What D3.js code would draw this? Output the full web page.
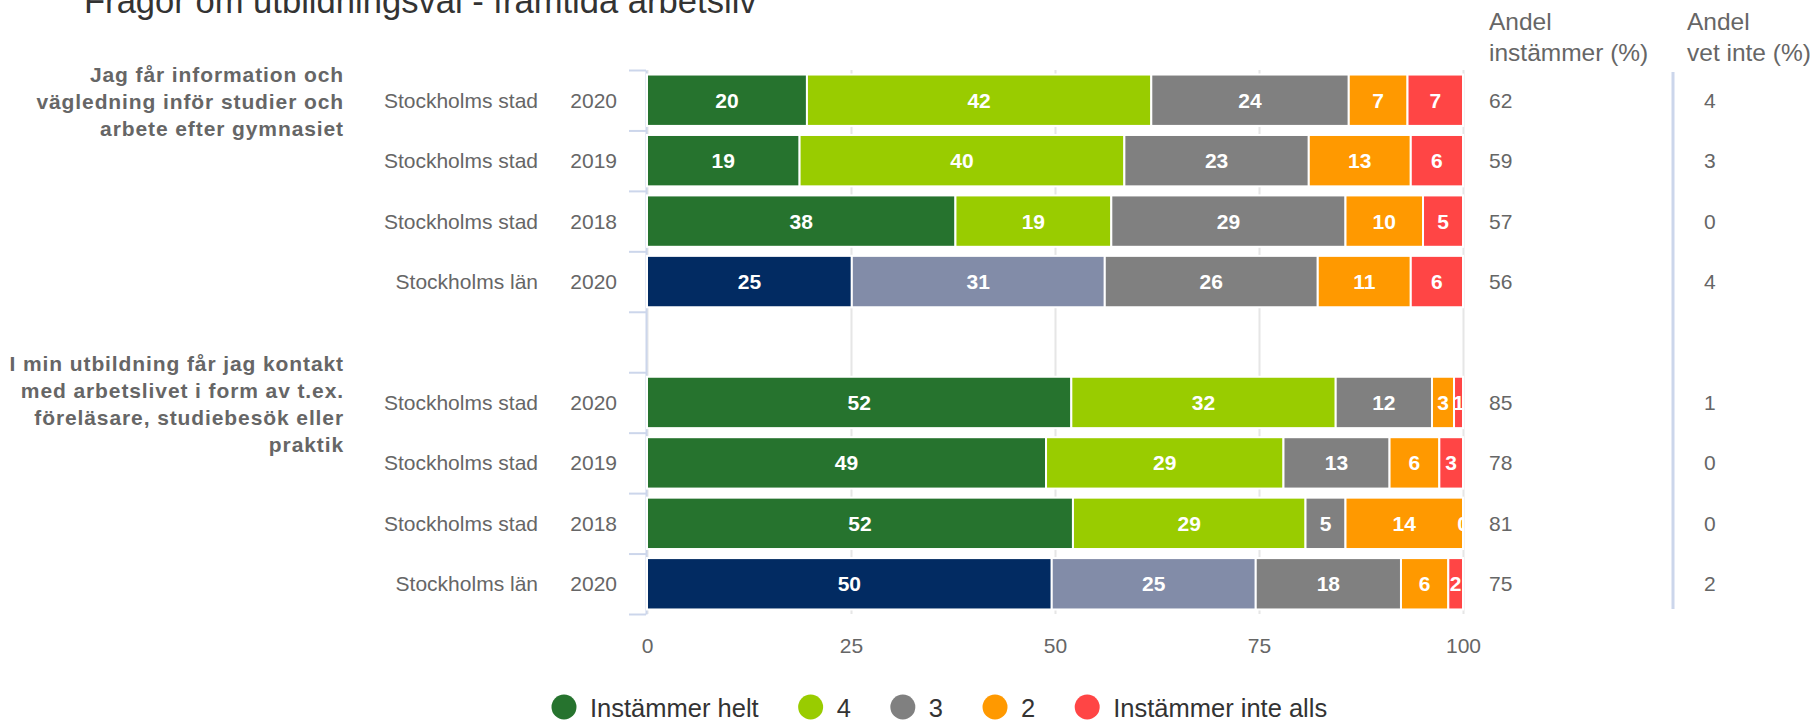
<!DOCTYPE html>
<html>
<head>
<meta charset="utf-8">
<script src="https://cdn.jsdelivr.net/npm/d3@7"></script>
<style>
body { margin: 0; background: #fff; }
text { font-family: "Liberation Sans", Arial, sans-serif; }
</style>
</head>
<body>
<svg></svg>
<script>
// data
const areas = ['Stockholms stad', 'Stockholms stad', 'Stockholms stad', 'Stockholms län',
  'Stockholms stad', 'Stockholms stad', 'Stockholms stad', 'Stockholms län']
const years = ['2020', '2019', '2018', '2020', '2020', '2019', '2018', '2020']
const slots = [0, 1, 2, 3, 5, 6, 7, 8]   // row 4 is an empty spacer between the questions
const seriesNames = ['Instämmer helt', '4', '3', '2', 'Instämmer inte alls']
const helt = [19.6, 18.7, 37.8, 25.1, 52.0, 48.9, 52.2, 49.6]
const fyra = [42.2, 39.8, 19.1, 31.0, 32.4, 29.1, 28.5, 25.0]
const tre = [24.2, 22.6, 28.7, 26.1, 11.8, 13.0, 4.9, 17.8]
const tva = [7.2, 12.5, 9.5, 11.4, 2.7, 6.1, 14.4, 5.8]
const inteAlls = [6.8, 6.4, 4.9, 6.4, 1.1, 2.9, 0, 1.8]
const andelInstammer = [62, 59, 57, 56, 85, 78, 81, 75]
const andelVetInte = [4, 3, 0, 4, 1, 0, 0, 2]
const questions = [
  ['Jag får information och', 'vägledning inför studier och', 'arbete efter gymnasiet'],
  ['I min utbildning får jag kontakt', 'med arbetslivet i form av t.ex.', 'föreläsare, studiebesök eller', 'praktik']
]
const questionSlots = [0, 5]
const xTicks = [0, 25, 50, 75, 100]

// colours
const stadColors = ['#26732e', '#99cc00', '#808080', '#ff9900', '#ff4545']
const lanColors = ['#022b62', '#828ca8', '#808080', '#ff9900', '#ff4545']

// size
const width = 1810
const height = 721
const plotLeft = 647
const plotRight = 1463
const plotTop = 70
const plotBottom = 614

const svg = d3.select('svg')
  .attr('width', width)
  .attr('height', height)

const x = d3.scaleLinear().domain([0, 100]).range([plotLeft, plotRight])
const y = d3.scaleBand().domain(d3.range(9)).range([plotTop, plotBottom])
  .paddingInner(0.15).paddingOuter(0.075)
const yEdge = d3.scaleLinear().domain([0, 9]).range([plotTop, plotBottom])

// title (cut at the top like the original)
svg.append('text')
  .attr('x', 84).attr('y', 13)
  .attr('font-size', 34.6).attr('fill', '#333')
  .text('Frågor om utbildningsval - framtida arbetsliv')

// grid lines and x labels
const xAxis = svg.append('g')
  .attr('transform', 'translate(0,' + plotBottom + ')')
  .call(d3.axisBottom(x).tickValues(xTicks).tickSize(-(plotBottom - plotTop)).tickPadding(24))
xAxis.select('.domain').remove()
xAxis.selectAll('line').attr('stroke', '#e6e6e6').attr('stroke-width', 2)
xAxis.selectAll('text').attr('font-size', 21).attr('fill', '#666').attr('font-family', '"Liberation Sans", Arial, sans-serif')

// left axis with ticks between rows
const yAxis = svg.append('g')
  .attr('transform', 'translate(' + (plotLeft - 1) + ',0)')
  .call(d3.axisLeft(yEdge).tickValues(d3.range(10)).tickSize(17).tickSizeOuter(0).tickFormat(''))
yAxis.select('.domain').attr('stroke', '#ccd6eb').attr('stroke-width', 2)
yAxis.selectAll('line').attr('stroke', '#ccd6eb').attr('stroke-width', 2)

// stacked bars
const table = slots.map(function(s, i) {
  return { slot: s, area: areas[i], year: years[i], i: i,
    'Instämmer helt': helt[i], '4': fyra[i], '3': tre[i], '2': tva[i], 'Instämmer inte alls': inteAlls[i] }
})
const stacked = d3.stack().keys(seriesNames)(table)

svg.append('clipPath').attr('id', 'plotClip')
  .append('rect').attr('x', plotLeft).attr('y', plotTop)
  .attr('width', plotRight - plotLeft + 1).attr('height', plotBottom - plotTop)

const layers = svg.append('g').selectAll('g')
  .data(stacked)
  .enter().append('g')

layers.selectAll('rect')
  .data(function(d) { return d.map(function(p) { p.k = d.index; return p }) })
  .enter().append('rect')
  .attr('x', function(d) { return x(d[0]) })
  .attr('y', function(d) { return y(d.data.slot) })
  .attr('width', function(d) { return x(d[1]) - x(d[0]) })
  .attr('height', y.bandwidth())
  .attr('fill', function(d) {
    return d.data.area === 'Stockholms län' ? lanColors[d.k] : stadColors[d.k]
  })
  .attr('stroke', '#fff')
  .attr('stroke-width', 2)

const labels = svg.append('g').attr('clip-path', 'url(#plotClip)')
stacked.forEach(function(layer) {
  labels.selectAll(null)
    .data(layer)
    .enter().append('text')
    .attr('x', function(d) { return x((d[0] + d[1]) / 2) })
    .attr('y', function(d) { return y(d.data.slot) + y.bandwidth() / 2 })
    .attr('dy', '0.36em')
    .attr('text-anchor', 'middle')
    .attr('font-size', 21)
    .attr('font-weight', 'bold')
    .attr('fill', '#fff')
    .text(function(d) { return Math.round(d[1] - d[0]) })
})

// category labels
const rowLabels = svg.append('g').attr('font-size', 21).attr('fill', '#666')
table.forEach(function(r) {
  const cy = y(r.slot) + y.bandwidth() / 2
  rowLabels.append('text').attr('x', 538).attr('y', cy).attr('dy', '0.36em')
    .attr('text-anchor', 'end').text(r.area)
  rowLabels.append('text').attr('x', 617).attr('y', cy).attr('dy', '0.36em')
    .attr('text-anchor', 'end').text(r.year)
  rowLabels.append('text').attr('x', 1489).attr('y', cy).attr('dy', '0.36em')
    .text(andelInstammer[r.i])
  rowLabels.append('text').attr('x', 1704).attr('y', cy).attr('dy', '0.36em')
    .text(andelVetInte[r.i])
})

// question labels
questions.forEach(function(lines, q) {
  const cy = y(questionSlots[q]) + y.bandwidth() / 2 + 1
  const lh = 27
  const t = svg.append('text')
    .attr('font-size', 21).attr('font-weight', 'bold').attr('fill', '#666')
    .attr('letter-spacing', 0.9).attr('text-anchor', 'end')
  lines.forEach(function(l, j) {
    t.append('tspan').attr('x', 344)
      .attr('y', cy + (j - (lines.length - 1) / 2) * lh)
      .attr('dy', '0.36em').text(l)
  })
})

// column headers on the right
const headers = [['Andel', 'instämmer (%)'], ['Andel', 'vet inte (%)']]
const headerX = [1489, 1687]
headers.forEach(function(h, k) {
  const t = svg.append('text').attr('font-size', 24.5).attr('fill', '#666')
  h.forEach(function(l, j) {
    t.append('tspan').attr('x', headerX[k]).attr('y', 30 + j * 31).text(l)
  })
})
svg.append('line')
  .attr('x1', 1673).attr('x2', 1673).attr('y1', 72).attr('y2', 609)
  .attr('stroke', '#ccd6eb').attr('stroke-width', 3)

// legend
const legend = svg.append('g')
let lx = 564
seriesNames.forEach(function(s, i) {
  legend.append('circle').attr('cx', lx).attr('cy', 707).attr('r', 12.5).attr('fill', stadColors[i])
  const t = legend.append('text').attr('x', lx + 26).attr('y', 717)
    .attr('font-size', 25.5).attr('fill', '#333').text(s)
  lx += 26 + t.node().getComputedTextLength() + 52
})
</script>
</body>
</html>
